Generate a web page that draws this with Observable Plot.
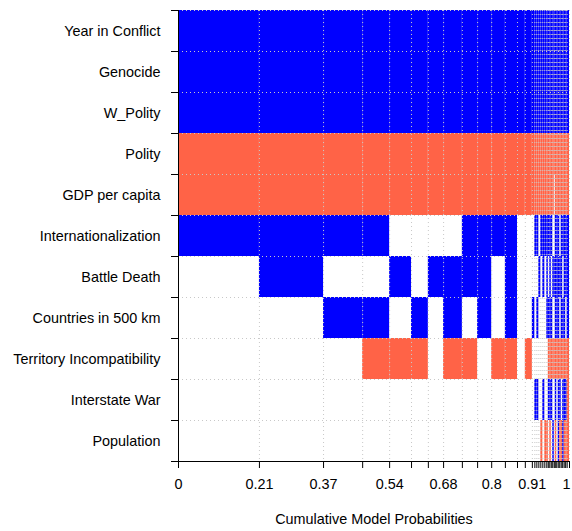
<!DOCTYPE html>
<html>
<head>
<meta charset="utf-8">
<script src="https://cdn.jsdelivr.net/npm/d3@7"></script>
<script src="https://cdn.jsdelivr.net/npm/@observablehq/plot@0.6"></script>
<style>
  html, body { margin: 0; padding: 0; background: #fff; }
</style>
</head>
<body>
<div id="chart"></div>
<script>
// Variables (rows, top to bottom)
const variables = ["Year in Conflict", "Genocide", "W_Polity", "Polity", "GDP per capita",
  "Internationalization", "Battle Death", "Countries in 500 km", "Territory Incompatibility",
  "Interstate War", "Population"];

// Posterior model probabilities (column widths), best model first
const modelProbs = [0.207, 0.164, 0.100, 0.069, 0.056, 0.043, 0.039, 0.048, 0.039, 0.036, 0.035, 0.031, 0.020, 0.018,
  0.0064, 0.0051, 0.0051, 0.0051, 0.0051, 0.0051, 0.0051, 0.0038, 0.0038, 0.0038, 0.0038, 0.0038, 0.0026,
  0.0038, 0.0038, 0.0038, 0.0038, 0.0038, 0.0038, 0.0038, 0.0038, 0.0060];

// Sign of coefficient per model: 1 = positive (blue), -1 = negative (red), 0 = excluded
const signYearInConflict = [1,1,1,1,1,1,1,1,1,1,1,1,1,1, 1,1,1,1,1,1,1,1,1,1,1,1,1, 1,1,1,1,1,1,1,1,1];
const signGenocide       = [1,1,1,1,1,1,1,1,1,1,1,1,1,1, 1,1,1,1,1,1,1,1,1,1,1,1,1, 1,1,1,1,1,1,1,1,1];
const signWPolity        = [1,1,1,1,1,1,1,1,1,1,1,1,1,1, 1,1,1,1,1,1,1,1,1,1,1,1,1, 1,1,1,1,1,1,1,1,1];
const signPolity         = [-1,-1,-1,-1,-1,-1,-1,-1,-1,-1,-1,-1,-1,-1, -1,-1,-1,-1,-1,-1,-1,-1,-1,-1,-1,-1,-1, -1,-1,-1,-1,-1,-1,-1,-1,-1];
const signGDP            = [-1,-1,-1,-1,-1,-1,-1,-1,-1,-1,-1,-1,-1,-1, -1,-1,-1,-1,-1,-1,-1,-1,-1,-1,-1,-1,0, -1,-1,-1,-1,-1,-1,-1,-1,-1];
const signIntl           = [1,1,1,1,0,0,0,0,1,1,1,1,0,0, 0,1,1,0,1,1,1,1,1,1,1,0,0, 1,1,1,0,1,1,1,1,1];
const signBattleDeath    = [0,1,0,0,1,0,1,1,1,1,0,1,0,0, 0,0,0,1,0,1,0,1,0,1,0,1,1, 1,1,1,1,1,0,1,1,1];
const signCountries      = [0,0,1,1,0,1,0,1,0,1,0,1,0,0, 1,0,1,0,0,0,0,1,1,1,1,0,0, 1,1,1,0,1,1,1,0,1];
const signTerritory      = [0,0,0,-1,-1,-1,0,-1,-1,0,-1,-1,0,-1, 0,0,0,0,0,0,0,0,-1,-1,-1,-1,-1, -1,-1,-1,-1,-1,-1,-1,-1,-1];
const signInterstateWar  = [0,0,0,0,0,0,0,0,0,0,0,0,0,0, 0,1,1,0,0,1,0,0,1,1,1,0,0, 1,0,1,1,0,1,1,1,-1];
const signPopulation     = [0,0,0,0,0,0,0,0,0,0,0,0,0,0, 0,0,0,0,-1,0,-1,-1,0,-1,0,1,0, -1,0,1,-1,-1,1,-1,-1,-1];

// Axis tick labels
const xTickValues = [0, 0.207, 0.371, 0.54, 0.678, 0.801, 0.905, 1];
const xTickLabels = ["0", "0.21", "0.37", "0.54", "0.68", "0.8", "0.91", "1"];
const xTitle = "Cumulative Model Probabilities";

const signs = [signYearInConflict, signGenocide, signWPolity, signPolity, signGDP, signIntl,
  signBattleDeath, signCountries, signTerritory, signInterstateWar, signPopulation];

// cumulative boundaries
const bounds = [0];
modelProbs.forEach(p => bounds.push(bounds[bounds.length - 1] + p));
const total = bounds[bounds.length - 1];

const cells = [];
signs.forEach((arr, r) => {
  arr.forEach((s, m) => {
    if (s !== 0) cells.push({x1: bounds[m], x2: bounds[m + 1], y1: r, y2: r + 1, s});
  });
});

const rowBounds = d3.range(variables.length + 1);
const rowCenters = variables.map((v, i) => i + 0.5);
const FS = 14.4;
const nL = xTickValues.length;
const innerTicks = xTickValues.slice(0, nL - 1).map((v, i) => ({v, label: xTickLabels[i]}));
const lastTick = [{v: xTickValues[nL - 1], label: xTickLabels[nL - 1]}];

const chart = Plot.plot({
  width: 572,
  height: 531,
  marginLeft: 178,
  marginRight: 3,
  marginTop: 10,
  marginBottom: 70,
  style: {fontFamily: "'Liberation Sans', Arial, sans-serif", fontSize: FS + "px", color: "black", background: "white"},
  x: {domain: [0, total]},
  y: {domain: [0, variables.length], range: [10, 461]},
  marks: [
    Plot.rect(cells, {x1: "x1", x2: "x2", y1: "y1", y2: "y2", fill: d => d.s > 0 ? "#0000FF" : "tomato"}),
    Plot.ruleX(bounds, {stroke: "#c8c8c8", strokeDasharray: "1,3", strokeWidth: 1}),
    Plot.ruleY(rowBounds, {stroke: "#c8c8c8", strokeDasharray: "1,3", strokeWidth: 1}),
    Plot.ruleX([0], {stroke: "black"}),
    Plot.ruleY([variables.length], {stroke: "black"}),
    Plot.axisX({ticks: bounds, tickSize: 7, tickFormat: () => "", label: null, stroke: "black"}),
    Plot.text(innerTicks, {x: "v", text: "label", frameAnchor: "bottom", dy: 27, fontSize: FS, fill: "black"}),
    Plot.text(lastTick, {x: "v", text: "label", frameAnchor: "bottom", dy: 27, dx: 1, textAnchor: "end", fontSize: FS, fill: "black"}),
    Plot.axisY({ticks: rowBounds, tickSize: 7, tickFormat: () => "", label: null, stroke: "black"}),
    Plot.axisY({ticks: rowCenters, tickSize: 0, tickPadding: 18, tickFormat: d => variables[Math.floor(d)], label: null, fontSize: FS, fill: "black"}),
    Plot.text([xTitle], {frameAnchor: "bottom", dy: 62, fontSize: FS, fill: "black"})
  ]
});
document.getElementById("chart").appendChild(chart);
</script>
</body>
</html>
